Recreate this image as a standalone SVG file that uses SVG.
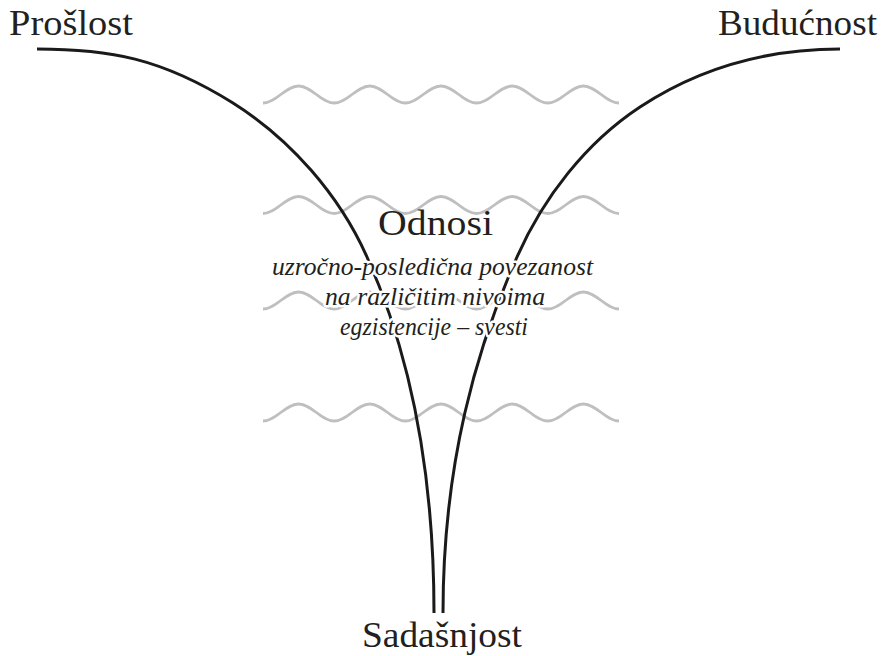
<svg xmlns="http://www.w3.org/2000/svg" xmlns:xlink="http://www.w3.org/1999/xlink" width="890" height="656" viewBox="0 0 890 656">
<style>
.lbl{font-family:"Liberation Serif","Times New Roman",serif;font-size:36px;fill:#231f20}
.it{font-family:"Liberation Serif","Times New Roman",serif;font-style:italic;font-size:26px;fill:#231f20;stroke:#fff;stroke-width:5;paint-order:stroke;stroke-linejoin:round}
.wave{fill:none;stroke:#bfbfbf;stroke-width:2.8}
.curve{fill:none;stroke:#1a1a1a;stroke-width:3;stroke-linecap:butt}
</style>
<defs>
<path id="w" d="M263,8.5 C276,8.5 285.6,-8.5 298.6,-8.5 S321.2,8.5 334.2,8.5 S356.8,-8.5 369.8,-8.5 S392.4,8.5 405.4,8.5 S428,-8.5 441,-8.5 S463.6,8.5 476.6,8.5 S499.2,-8.5 512.2,-8.5 S534.8,8.5 547.8,8.5 S570.4,-8.5 583.4,-8.5 S606,8.5 619,8.5"/>
</defs>
<rect width="890" height="656" fill="#fff"/>
<g id="waves">
<use xlink:href="#w" class="wave" transform="translate(0,94.5)"/>
<use xlink:href="#w" class="wave" transform="translate(0,205)"/>
<use xlink:href="#w" class="wave" transform="translate(0,300.5)"/>
<use xlink:href="#w" class="wave" transform="translate(0,412.5)"/>
</g>
<g id="connectors">
<path class="curve" d="M37,49 C109,49 161,58 233,103 C290.5,139.2 339.3,195 367,257 C407.8,348.3 434,463 434,613"/>
<path class="curve" d="M840,49 C775,49 706.8,63 640,107 C585.7,142.8 543.3,197.6 517,257 C476.5,348.4 443,463 443,613"/>
</g>
<g id="proslost"><text class="lbl" x="9" y="35" textLength="124" lengthAdjust="spacingAndGlyphs">Prošlost</text></g>
<g id="buducnost"><text class="lbl" x="718" y="35" textLength="159" lengthAdjust="spacingAndGlyphs">Budućnost</text></g>
<g id="sadasnjost"><text class="lbl" x="362" y="647" textLength="160" lengthAdjust="spacingAndGlyphs">Sadašnjost</text></g>
<g id="odnosi">
<text class="lbl" x="378" y="235" textLength="115" lengthAdjust="spacingAndGlyphs">Odnosi</text>
<text class="it" x="272" y="275" textLength="321" lengthAdjust="spacingAndGlyphs">uzročno-posledična povezanost</text>
<text class="it" x="325" y="305" textLength="220" lengthAdjust="spacingAndGlyphs">na različitim nivoima</text>
<text class="it" x="340" y="335" textLength="188" lengthAdjust="spacingAndGlyphs">egzistencije – svesti</text>
</g>
</svg>
